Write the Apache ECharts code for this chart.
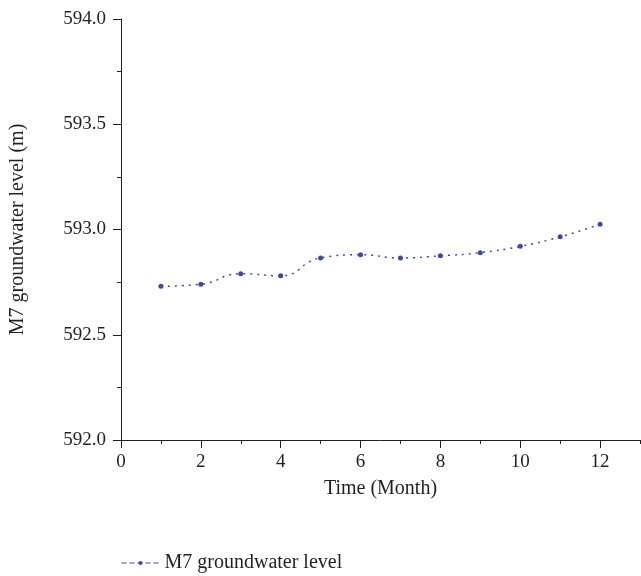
<!DOCTYPE html>
<html>
<head>
<meta charset="utf-8">
<script src="https://cdn.jsdelivr.net/npm/echarts@6/dist/echarts.min.js"></script>
<style>html,body{margin:0;padding:0;background:#fff;}#c{width:641px;height:576px;}</style>
</head>
<body>
<div id="c"></div>
<script>
const months = [1, 2, 3, 4, 5, 6, 7, 8, 9, 10, 11, 12];
const levels = [592.73, 592.74, 592.79, 592.78, 592.865, 592.88, 592.865, 592.875, 592.89, 592.92, 592.965, 593.025];
const xMajorTicks = [0, 2, 4, 6, 8, 10, 12];
const xMinorTicks = [1, 3, 5, 7, 9, 11, 13];
const seriesName = 'M7 groundwater level';

const font = '"Liberation Serif", "Times New Roman", serif';
const ink = '#231f20';
const blue = '#3f48a8';
const fs = 19;
const fsName = 20;

const chart = echarts.init(document.getElementById('c'), null, {renderer: 'canvas'});
chart.setOption({
  animation: false,
  textStyle: {fontFamily: font, color: ink},
  grid: {left: 120, right: 1, top: 19, bottom: 136},
  legend: {
    data: [seriesName],
    top: 548,
    left: 116,
    itemWidth: 38,
    itemHeight: 5,
    itemGap: 10,
    textStyle: {fontFamily: font, fontSize: fsName, color: ink},
    lineStyle: {type: [5, 3], width: 1}
  },
  xAxis: [{
    type: 'value',
    min: 0, max: 13, interval: 1,
    name: 'Time (Month)',
    nameLocation: 'middle',
    nameGap: 39,
    nameTextStyle: {fontFamily: font, fontSize: fsName, color: ink},
    axisLine: {lineStyle: {color: ink, width: 1}},
    axisTick: {show: true, length: 8, customValues: xMajorTicks, lineStyle: {color: ink}},
    axisLabel: {customValues: xMajorTicks, margin: 13, fontFamily: font, fontSize: fs, color: ink},
    splitLine: {show: false}
  }, {
    type: 'value',
    min: 0, max: 13, interval: 1,
    position: 'bottom',
    axisLine: {show: false},
    axisTick: {show: true, length: 4, customValues: xMinorTicks, lineStyle: {color: ink}},
    axisLabel: {show: false},
    splitLine: {show: false}
  }],
  yAxis: {
    type: 'value',
    min: 592, max: 594, interval: 0.5,
    name: 'M7 groundwater level (m)',
    nameLocation: 'middle',
    nameGap: 93,
    nameTextStyle: {fontFamily: font, fontSize: fsName, color: ink},
    axisLine: {show: true, lineStyle: {color: ink, width: 1}},
    axisTick: {show: true, length: 8, lineStyle: {color: ink}},
    minorTick: {show: true, splitNumber: 2, length: 4, lineStyle: {color: ink}},
    axisLabel: {margin: 15, fontFamily: font, fontSize: fs, color: ink, formatter: v => v.toFixed(1)},
    splitLine: {show: false},
    minorSplitLine: {show: false}
  },
  series: [{
    name: seriesName,
    type: 'line',
    xAxisIndex: 0,
    data: months.map((m, i) => [m, levels[i]]),
    smooth: 0.5,
    symbol: 'circle',
    symbolSize: 5,
    itemStyle: {color: blue},
    lineStyle: {color: blue, width: 1.5, type: [2, 5]}
  }]
});
</script>
</body>
</html>
